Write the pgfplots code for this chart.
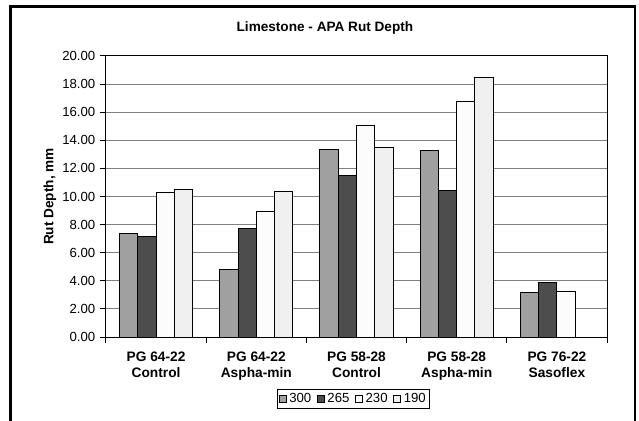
\documentclass[border=0pt]{standalone}
\usepackage{fontspec}
\setmainfont{Liberation Sans}
\usepackage{pgfplots}
\pgfplotsset{compat=1.18}
\definecolor{cA}{HTML}{A0A0A0}
\definecolor{cB}{HTML}{4D4D4D}
\definecolor{cC}{HTML}{FCFCFC}
\definecolor{cD}{HTML}{F0F0F0}
\definecolor{gridc}{HTML}{808080}
\begin{document}
\begin{tikzpicture}
\useasboundingbox (0,0) rectangle (479.25pt,315.75pt);
\draw[line width=1.7pt] (7.9pt,-8pt) -- (7.9pt,310.9pt) -- (476.2pt,310.9pt) -- (476.2pt,-8pt);
\begin{axis}[
  at={(79.5pt,63pt)}, anchor=south west,
  scale only axis, width=375.75pt, height=210.75pt,
  ybar=0pt, bar width=13.7pt,
  xmin=-0.5, xmax=4.5, ymin=0, ymax=20,
  xtick={0,...,4},
  xticklabels={{PG 64-22\\Control},{PG 64-22\\Aspha-min},{PG 58-28\\Control},{PG 58-28\\Aspha-min},{PG 76-22\\Sasoflex}},
  xticklabel style={align=center, font=\fontsize{10.3}{12}\selectfont\bfseries, yshift=-3.2pt},
  minor xtick={-0.5,0.5,...,4.5},
  ytick={0,2,...,20},
  yticklabel style={font=\fontsize{9.9}{12}\selectfont},
  /pgf/number format/assume math mode=true,
  yticklabel={\pgfmathprintnumber[fixed,fixed zerofill,precision=2]{\tick}},
  ymajorgrids, grid style={gridc, line width=0.75pt},
  tick align=outside, tick pos=left,
  major tick length=4.5pt, minor tick length=4.5pt,
  major x tick style={draw=none},
  tick style={black, line width=0.75pt},
  axis line style={black, line width=0.75pt},
  title={Limestone - APA Rut Depth},
  title style={at={(axis description cs:0.437,1.071)}, anchor=center, font=\fontsize{10.2}{12}\selectfont\bfseries},
  ylabel={Rut Depth, mm},
  ylabel style={at={(axis description cs:-0.112,0.5)}, anchor=center, font=\fontsize{10.2}{12}\selectfont\bfseries},
  legend style={at={(0.494,-0.185)}, anchor=north, legend columns=-1, draw=black, line width=0.6pt,
    font=\fontsize{9.9}{12}\selectfont, inner sep=1pt,
    /tikz/every even column/.append style={column sep=2pt}},
  legend image code/.code={\draw[#1, line width=0.6pt] (0.5pt,-2.5pt) rectangle (6pt,3pt);},
]
\addplot[fill=cA, draw=black, line width=0.75pt] coordinates {(0,7.35) (1,4.83) (2,13.38) (3,13.26) (4,3.15)};
\addplot[fill=cB, draw=black, line width=0.75pt] coordinates {(0,7.12) (1,7.75) (2,11.46) (3,10.45) (4,3.86)};
\addplot[fill=cC, draw=black, line width=0.75pt] coordinates {(0,10.28) (1,8.93) (2,15.02) (3,16.75) (4,3.27)};
\addplot[fill=cD, draw=black, line width=0.75pt] coordinates {(0,10.52) (1,10.38) (2,13.50) (3,18.45)};
\legend{300,265,230,190}
\end{axis}
\end{tikzpicture}
\end{document}
